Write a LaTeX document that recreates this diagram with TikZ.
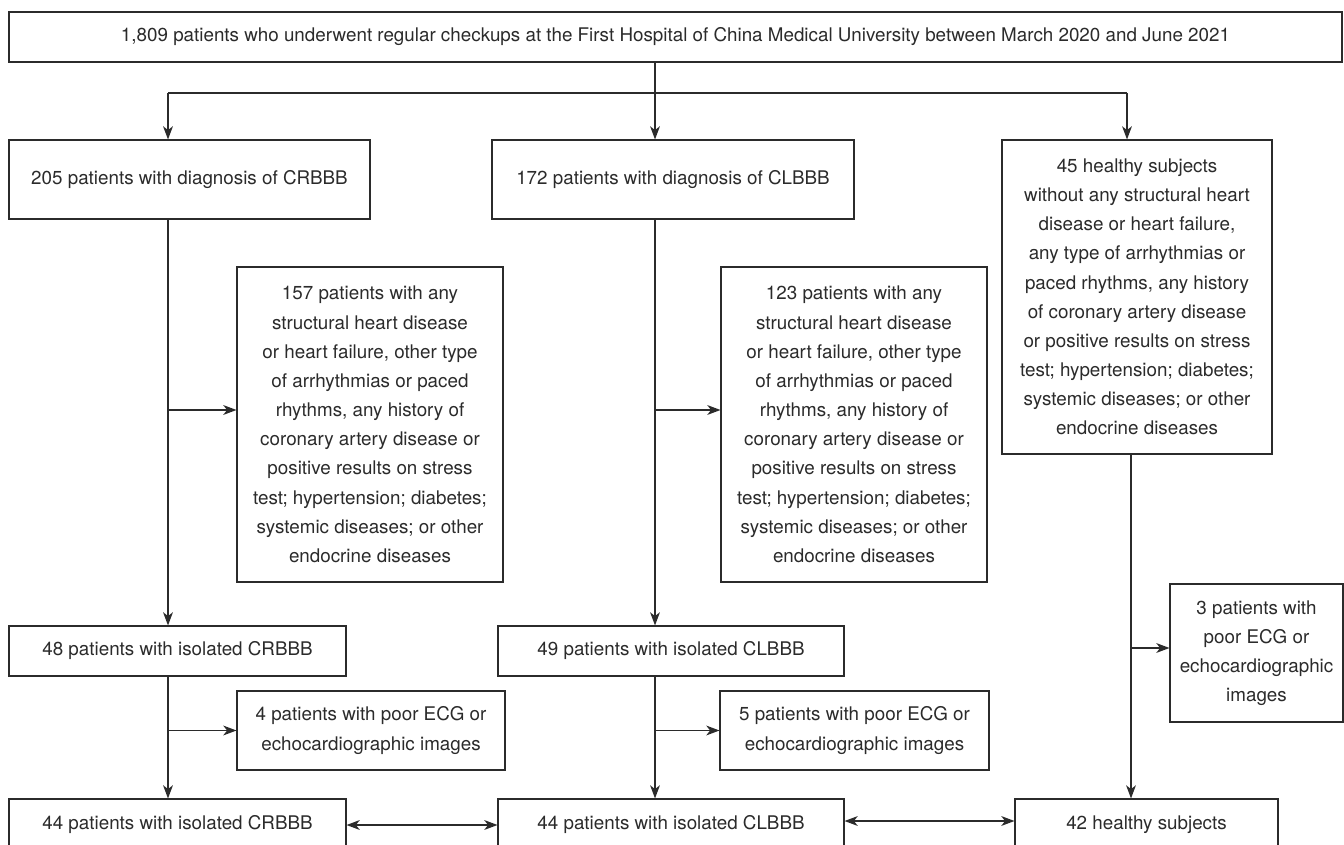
\documentclass[tikz,border=0pt]{standalone}
\usepackage{fontspec}
\setmainfont{TeX Gyre Heros}
\usetikzlibrary{arrows.meta}
\definecolor{ink}{HTML}{2B2B2B}

\begin{document}
\begin{tikzpicture}[
  line width=0.65pt,
  draw=ink,
  box/.style={draw=ink,text=ink,align=center,inner sep=0pt,
    font=\fontsize{10.7}{16.6}\selectfont},
  arr/.style={-{Stealth[length=7.5pt,width=5.6pt,inset=2.2pt]}},
  darr/.style={{Stealth[length=7.5pt,width=5.6pt,inset=2.2pt]}-{Stealth[length=7.5pt,width=5.6pt,inset=2.2pt]}}
]
  \clip (0,0) rectangle (26.88,-16.9);
  \fill[white] (0,0) rectangle (26.88,-16.9);

  \node[box,minimum width=26.66cm,minimum height=1.0cm] (all) at (13.51,-0.74)
    {1,809 patients who underwent regular checkups at the First Hospital of China Medical University between March 2020 and June 2021};

  \node[box,minimum width=7.22cm,minimum height=1.58cm] (crbbb) at (3.79,-3.59)
    {205 patients with diagnosis of CRBBB};
  \node[box,minimum width=7.24cm,minimum height=1.58cm] (clbbb) at (13.46,-3.59)
    {172 patients with diagnosis of CLBBB};
  \node[box,minimum width=5.40cm,minimum height=6.28cm] (hlth) at (22.74,-5.94)
    {45 healthy subjects\\without any structural heart\\disease or heart failure,\\any type of arrhythmias or\\paced rhythms, any history\\of coronary artery disease\\or positive results on stress\\test; hypertension; diabetes;\\systemic diseases; or other\\endocrine diseases};

  \node[box,minimum width=5.32cm,minimum height=6.30cm] (exr) at (7.40,-8.49)
    {157 patients with any\\structural heart disease\\or heart failure, other type\\of arrhythmias or paced\\rhythms, any history of\\coronary artery disease or\\positive results on stress\\test; hypertension; diabetes;\\systemic diseases; or other\\endocrine diseases};
  \node[box,minimum width=5.32cm,minimum height=6.30cm] (exl) at (17.08,-8.49)
    {123 patients with any\\structural heart disease\\or heart failure, other type\\of arrhythmias or paced\\rhythms, any history of\\coronary artery disease or\\positive results on stress\\test; hypertension; diabetes;\\systemic diseases; or other\\endocrine diseases};

  \node[box,minimum width=6.74cm,minimum height=1.0cm] (isor) at (3.55,-13.02)
    {48 patients with isolated CRBBB};
  \node[box,minimum width=6.92cm,minimum height=1.0cm] (isol) at (13.42,-13.02)
    {49 patients with isolated CLBBB};
  \node[box,minimum width=3.46cm,minimum height=2.76cm] (poorh) at (25.13,-13.06)
    {3 patients with\\poor ECG or\\echocardiographic\\images};

  \node[box,minimum width=5.36cm,minimum height=1.58cm] (poorr) at (7.42,-14.61)
    {4 patients with poor ECG or\\echocardiographic images};
  \node[box,minimum width=5.38cm,minimum height=1.58cm] (poorl) at (17.09,-14.61)
    {5 patients with poor ECG or\\echocardiographic images};

  \node[box,minimum width=6.74cm,minimum height=1.04cm] (finr) at (3.55,-16.5)
    {44 patients with isolated CRBBB};
  \node[box,minimum width=6.92cm,minimum height=1.04cm] (finl) at (13.42,-16.5)
    {44 patients with isolated CLBBB};
  \node[box,minimum width=5.26cm,minimum height=1.04cm] (finh) at (22.93,-16.5)
    {42 healthy subjects};

  % split lines
  \coordinate (c1) at (3.36,-1.86);
  \coordinate (c2) at (13.10,-1.86);
  \coordinate (c3) at (22.54,-1.86);
  \coordinate (c4) at (22.62,-9.08);

  \draw[ink] (all.south -| c2) -- (c2);
  \draw[ink] (c1) -- (c3);
  \draw[ink,arr] (c1) -- (crbbb.north -| c1);
  \draw[ink,arr] (c2) -- (clbbb.north -| c2);
  \draw[ink,arr] (c3) -- (hlth.north -| c3);

  % CRBBB column
  \draw[ink,arr] (crbbb.south -| c1) -- (isor.north -| c1);
  \draw[ink,arr] ([yshift=0.29cm]exr.west -| c1) -- ([yshift=0.29cm]exr.west);
  \draw[ink,arr] (isor.south -| c1) -- (finr.north -| c1);
  \draw[ink,arr] (poorr.west -| c1) -- (poorr.west);

  % CLBBB column
  \draw[ink,arr] (clbbb.south -| c2) -- (isol.north -| c2);
  \draw[ink,arr] ([yshift=0.29cm]exl.west -| c2) -- ([yshift=0.29cm]exl.west);
  \draw[ink,arr] (isol.south -| c2) -- (finl.north -| c2);
  \draw[ink,arr] (poorl.west -| c2) -- (poorl.west);

  % healthy column
  \draw[ink,arr] (hlth.south -| c4) -- (finh.north -| c4);
  \draw[ink,arr] ([yshift=0.1cm]poorh.west -| c4) -- ([yshift=0.1cm]poorh.west);

  % comparisons
  \draw[ink,darr] (finr.east) -- (finl.west);
  \draw[ink,darr] ([yshift=0.08cm]finl.east) -- ([yshift=0.08cm]finh.west);
\end{tikzpicture}
\end{document}
